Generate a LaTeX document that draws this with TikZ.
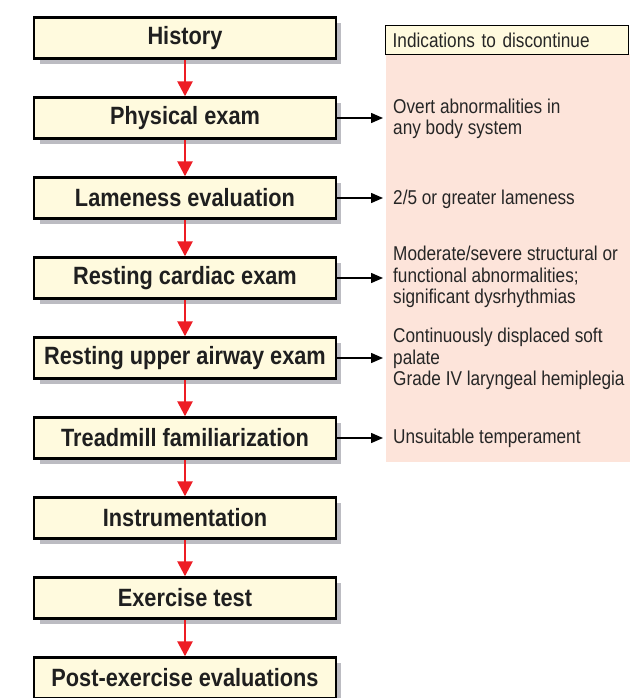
\documentclass[tikz,border=0pt]{standalone}
\usepackage{fontspec}
\setmainfont{Liberation Sans}
\newfontfamily\boxfont[FakeStretch=0.87]{Liberation Sans Bold}
\newfontfamily\notefont[FakeStretch=0.86]{Liberation Sans}
\usetikzlibrary{arrows.meta}
\definecolor{boxfill}{RGB}{255,250,222}
\definecolor{pinkbg}{RGB}{253,228,218}
\definecolor{redarrow}{RGB}{237,28,36}
\definecolor{shadowgray}{RGB}{188,188,194}
\tikzset{
  stepbox/.style={draw=black, line width=2.4pt, fill=boxfill, minimum width=302pt, minimum height=41pt,
    inner sep=0pt, font=\boxfont\fontsize{25}{28}\selectfont, text=black!88},
  flow/.style={draw=redarrow, line width=2.6pt, -{Triangle[length=15pt,width=15pt]}},
  note/.style={anchor=west, align=left, inner xsep=10pt, inner ysep=0pt,
    font=\notefont\fontsize{20}{21.5}\selectfont, text=black!85},
  stop/.style={draw=black, line width=1.5pt, -{Triangle[length=12pt,width=10pt]}},
}
\begin{document}
\begin{tikzpicture}[x=1pt,y=-1pt]
\useasboundingbox (0,0) rectangle (630,698);
% right panel
\fill[pinkbg] (386,54) rectangle (630,462);
\node[draw=black, line width=1.4pt, fill=boxfill, anchor=north west, minimum width=243pt, minimum height=29pt,
  inner xsep=7pt, text width=229pt, align=left, font=\notefont\fontsize{20}{21.5}\selectfont, text=black!85]
  (hdr) at (385,25) {Indications to discontinue};
% shadows
\foreach \yy in {38,118,198,278,358,438,518,598,678}{
  \fill[shadowgray] (40,\yy-15) rectangle (341,\yy+26);
}
% boxes
\node[stepbox] (b1) at (185,38) {History};
\node[stepbox] (b2) at (185,118) {Physical exam};
\node[stepbox] (b3) at (185,198) {Lameness evaluation};
\node[stepbox] (b4) at (185,278) {Resting cardiac exam};
\node[stepbox] (b5) at (185,358) {Resting upper airway exam};
\node[stepbox] (b6) at (185,438) {Treadmill familiarization};
\node[stepbox] (b7) at (185,518) {Instrumentation};
\node[stepbox] (b8) at (185,598) {Exercise test};
\node[stepbox] (b9) at (185,678) {Post-exercise evaluations};
% red arrows
\foreach \a/\b in {b1/b2,b2/b3,b3/b4,b4/b5,b5/b6,b6/b7,b7/b8,b8/b9}{
  \draw[flow] (\a.south) -- (\b.north);
}
% notes
\node[note] (n2) at (383,119) {Overt abnormalities in\\any body system};
\node[note] (n3) at (383,199) {2/5 or greater lameness};
\node[note] (n4) at (383,277) {Moderate/severe structural or\\functional abnormalities;\\significant dysrhythmias};
\node[note] (n5) at (383,359) {Continuously displaced soft\\palate\\Grade IV laryngeal hemiplegia};
\node[note] (n6) at (383,438) {Unsuitable temperament};
\foreach \a/\b in {b2/n2,b3/n3,b4/n4,b5/n5,b6/n6}{
  \draw[stop] (\a.east) -- (\a.east -| \b.west);
}
\end{tikzpicture}
\end{document}
